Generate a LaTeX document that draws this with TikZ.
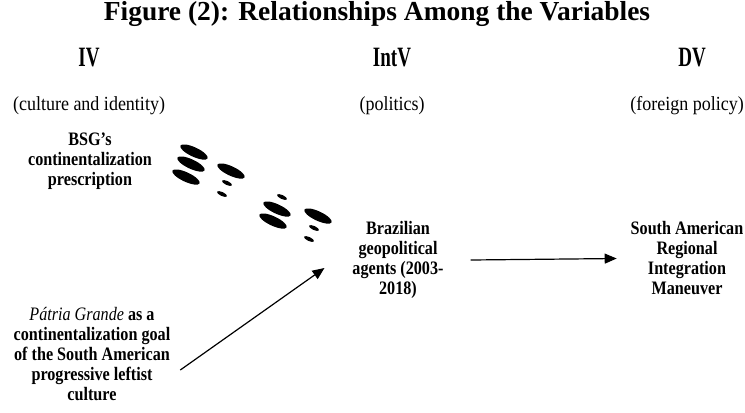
\documentclass[tikz,border=0pt]{standalone}
\usepackage{fontspec}
\setmainfont{Liberation Serif}
\newfontfamily\narrowfont[FakeStretch=0.85]{Liberation Serif}
\newfontfamily\headfont[FakeStretch=0.68]{Liberation Serif}
\newfontfamily\subfont[FakeStretch=0.9]{Liberation Serif}
\usetikzlibrary{arrows.meta}

\begin{document}
\begin{tikzpicture}[x=0.75pt,y=-0.75pt,
  every node/.style={inner sep=0pt,outer sep=0pt},
  head/.style={anchor=base,font=\headfont\bfseries\fontsize{21}{22}\selectfont},
  sub/.style={anchor=base,font=\subfont\fontsize{15}{16}\selectfont},
  var/.style={align=center,font=\narrowfont\bfseries\fontsize{14.25}{15}\selectfont},
  link/.style={line width=0.9pt,-{Triangle[length=9pt,width=7.5pt]}}]
\useasboundingbox (0,0) rectangle (745,412);
% title and column heads
\node[anchor=base,font=\bfseries\fontsize{20.6}{22}\selectfont] (title) at (377,20.5) {Figure (2): Relationships Among the Variables};
\foreach \n/\x/\t in {iv/89/IV,intv/392/IntV,dv/692/DV}{\node[head] (\n) at (\x,66.5) {\t};}
\foreach \n/\x/\t in {ivsub/89/{(culture and identity)},intvsub/392/{(politics)},dvsub/687/{(foreign policy)}}{\node[sub] (\n) at (\x,110) {\t};}
% variables
\node[var] (bsg) at (90,161) {BSG’s\\continentalization\\prescription};
\node[var] (patria) at (92,354.5) {{\mdseries\itshape Pátria Grande} as a\\continentalization goal\\of the South American\\progressive leftist\\culture};
\node[var] (agents) at (398,260) {Brazilian\\geopolitical\\agents (2003-\\2018)};
\node[var] (sarim) at (687,258.5) {South American\\Regional\\Integration\\Maneuver};
% broken dashed link from bsg
\foreach \x/\y in {194/152,191/164,186/177,231/171,277/209,273/221,318/216}
  {\fill[rotate around={-25:(\x,\y)}] (\x,\y) ellipse (15 and 4.7);}
\foreach \x/\y in {227/183,222/194,282/197,314/228,309/239}
  {\fill[rotate around={-25:(\x,\y)}] (\x,\y) ellipse (5.5 and 2);}
% arrows
\draw[link] ([shift={(10,15.5)}]patria.east) -- ([shift={(-28,8)}]agents.west);
\draw[link] ([shift={(27,0)}]agents.east) -- ([shift={(-14,0)}]sarim.west);
\end{tikzpicture}
\end{document}
